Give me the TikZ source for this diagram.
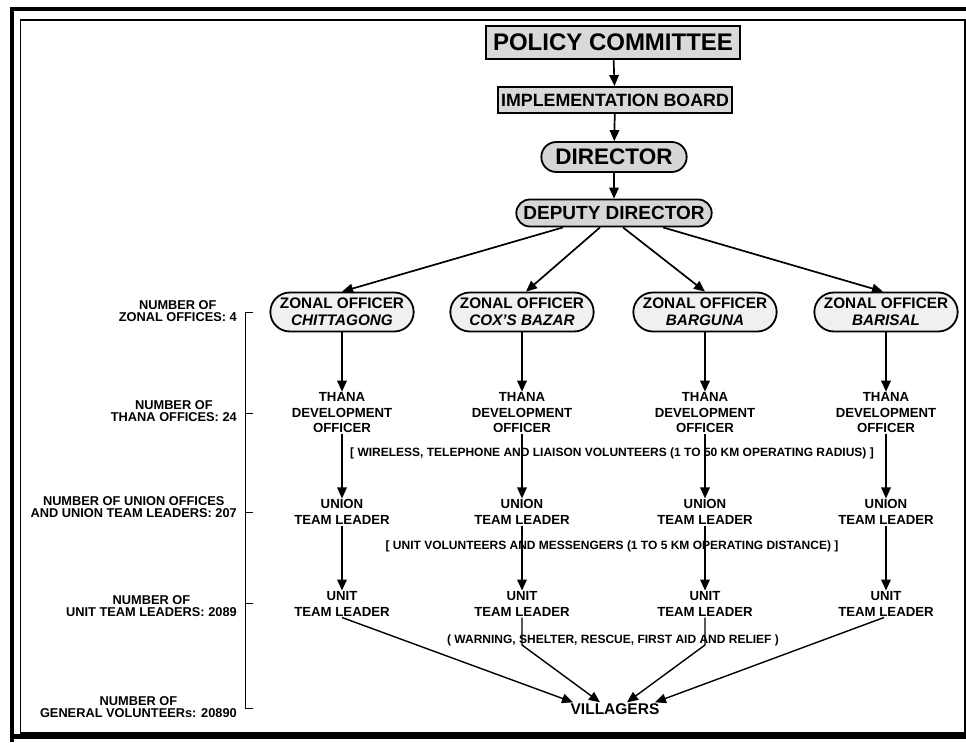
\documentclass[tikz,border=0pt]{standalone}
\usepackage{fontspec}
\setmainfont{Liberation Sans}
\usetikzlibrary{arrows.meta,shapes.misc}
\begin{document}
\begin{tikzpicture}[x=1pt,y=-1pt,
  arr/.style={line width=1.7pt,-{Triangle[length=11pt,width=9.5pt]}},
  varr/.style={line width=1.4pt,-{Triangle[length=11pt,width=9.5pt]}},
  sqbox/.style={draw,line width=2pt,fill=gray!30,inner ysep=0pt,align=center},
  pill/.style={draw,line width=1.8pt,rounded rectangle,inner ysep=0pt,align=center},
  coltxt/.style={font=\bfseries\fontsize{13.2}{15.5}\selectfont,align=center,inner sep=1pt},
  note/.style={font=\bfseries\fontsize{12}{13}\selectfont,inner sep=0pt},
  leftlbl/.style={font=\bfseries\fontsize{12.8}{12.8}\selectfont,align=center,anchor=east,inner sep=0pt}
]
\useasboundingbox (0,0) rectangle (966,742);
% frame
\draw[line width=1.6pt] (20.5,20) rectangle (965,733);
\draw[line width=4pt] (11.5,742) -- (11.5,9) -- (966,9);
\draw[line width=4.5pt] (9.5,736.5) -- (966,736.5);

% top chain
\node[sqbox,inner xsep=7pt,minimum height=33pt,font=\bfseries\fontsize{24}{26}\selectfont] (pc) at (613,42) {POLICY COMMITTEE};
\node[sqbox,inner xsep=3pt,minimum height=26pt,font=\bfseries\fontsize{17.8}{19}\selectfont] (ib) at (615,100) {IMPLEMENTATION BOARD};
\node[pill,fill=gray!32,minimum width=152pt,minimum height=30pt,font=\bfseries\fontsize{22.5}{25}\selectfont] (dir) at (614,157) {DIRECTOR};
\node[pill,fill=gray!32,minimum width=202pt,minimum height=27pt,font=\bfseries\fontsize{19}{21}\selectfont] (dd) at (614,213) {DEPUTY DIRECTOR};

\draw[arr] (pc) -- (ib);
\draw[arr] (ib) -- (dir);
\draw[arr] (dir) -- (dd);

% zonal officers
\tikzset{zone/.style={pill,fill=gray!12,minimum width=150pt,minimum height=39pt,font=\bfseries\fontsize{15.3}{17}\selectfont}}
\node[zone] (z1) at (342,312) {ZONAL OFFICER\\\itshape CHITTAGONG};
\node[zone] (z2) at (522,312) {ZONAL OFFICER\\\itshape COX'S BAZAR};
\node[zone] (z3) at (705,312) {ZONAL OFFICER\\\itshape BARGUNA};
\node[zone] (z4) at (886,312) {ZONAL OFFICER\\\itshape BARISAL};

\draw[arr] ([xshift=-51pt]dd.south) -- (z1.north);
\draw[arr] ([xshift=-14pt]dd.south) -- ([xshift=4pt]z2.north);
\draw[arr] ([xshift=9pt]dd.south) -- (z3.north);
\draw[arr] ([xshift=49pt]dd.south) -- ([xshift=-3pt]z4.north);

% columns
\foreach \i/\x in {1/342,2/522,3/705,4/886}{
  \node[coltxt] (t\i) at (\x,413) {THANA\\DEVELOPMENT\\OFFICER};
  \node[coltxt] (n\i) at (\x,512) {UNION\\TEAM LEADER};
  \node[coltxt] (u\i) at (\x,604) {UNIT\\TEAM LEADER};
  \draw[arr] (z\i.south) -- (t\i.north);
  \draw[arr] (t\i.south) -- (n\i.north);
  \draw[arr] (n\i.south) -- (u\i.north);
}

% notes
\node[note] (w1) at (612,453) {[ WIRELESS, TELEPHONE AND LIAISON VOLUNTEERS (1 TO 50 KM OPERATING RADIUS) ]};
\node[note] (w2) at (612,546) {[ UNIT VOLUNTEERS AND MESSENGERS (1 TO 5 KM OPERATING DISTANCE) ]};
\node[note] (w3) at (613,640) {( WARNING, SHELTER, RESCUE, FIRST AID AND RELIEF )};

% villagers
\node[font=\bfseries\fontsize{15.5}{17}\selectfont,inner sep=1pt] (vil) at (615,709) {VILLAGERS};
\coordinate (k2) at (522,645);
\coordinate (k3) at (705,645);
\draw[varr] (u1.south) -- ([xshift=-42pt]vil.north);
\draw[varr] (u2.south) -- (k2) -- ([xshift=-15pt]vil.north);
\draw[varr] (u3.south) -- (k3) -- ([xshift=12pt]vil.north);
\draw[varr] ([xshift=-2pt]u4.south) -- ([xshift=40pt]vil.north);

% left scale
\draw[line width=1pt] (253,312) -- (245,312) -- (245,708) -- (253,708);
\foreach \y in {413,512,603}{\draw[line width=1pt] (245,\y) -- (253,\y);}
\node[leftlbl] (l1) at (237,311) {NUMBER OF\\ZONAL OFFICES: 4};
\node[leftlbl] (l2) at (237,411) {NUMBER OF\\THANA OFFICES: 24};
\node[leftlbl] (l3) at (237,507) {NUMBER OF UNION OFFICES\\AND UNION TEAM LEADERS: 207};
\node[leftlbl] (l4) at (237,606) {NUMBER OF\\UNIT TEAM LEADERS: 2089};
\node[leftlbl] (l5) at (237,707) {NUMBER OF\\GENERAL VOLUNTEERs: 20890};
\end{tikzpicture}
\end{document}
